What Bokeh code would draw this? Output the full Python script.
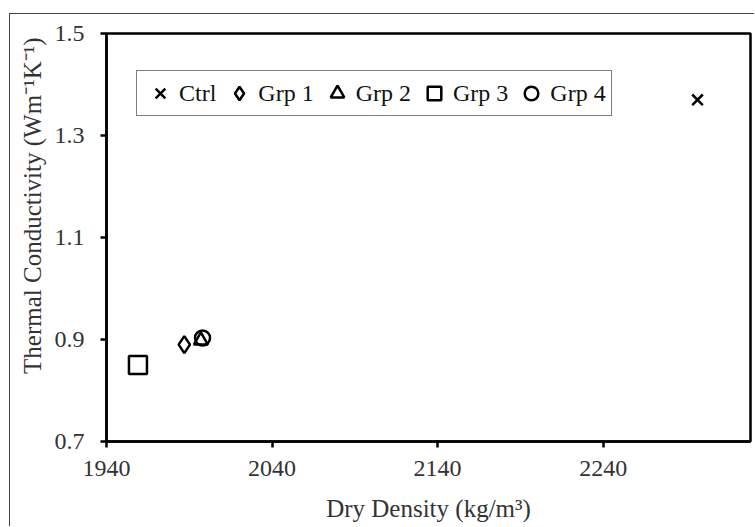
import math
from bokeh.plotting import figure
from bokeh.models import Legend, LegendItem, Title, FixedTicker, Range1d
from bokeh.embed import file_html
from bokeh.resources import INLINE

# ---- data ----
groups = ["Ctrl", "Grp 1", "Grp 2", "Grp 3", "Grp 4"]
dry_density = [2297, 1987, 1997, 1959, 1998]
conductivity = [1.37, 0.89, 0.898, 0.85, 0.903]
markers = ["x", "diamond", "triangle", "square", "circle"]
marker_sizes = [15, 17, 14, 18, 15]
x_ticks = [1940, 2040, 2140, 2240]
y_ticks = [0.7, 0.9, 1.1, 1.3, 1.5]

FONT = "Liberation Serif"
TXT = "#333333"

p = figure(width=745, height=513, output_backend="svg", toolbar_location=None,
           x_range=Range1d(1940, 2329), y_range=Range1d(0.7, 1.5),
           min_border_left=95, min_border_right=5, min_border_top=19, min_border_bottom=86)
p.styles = {"border-left": "1px solid #444", "border-top": "1px solid #444",
            "margin-left": "9px", "margin-top": "13px"}

p.xgrid.visible = False
p.ygrid.visible = False
p.outline_line_color = "black"
p.outline_line_width = 2.5
p.background_fill_color = "white"
p.border_fill_color = "white"

for ax in (p.xaxis[0], p.yaxis[0]):
    ax.axis_line_color = "black"
    ax.axis_line_width = 2.5
    ax.major_tick_line_color = "black"
    ax.major_tick_line_width = 2.5
    ax.major_tick_in = 0
    ax.major_tick_out = 6
    ax.minor_tick_line_color = None
    ax.major_label_text_font = FONT
    ax.major_label_text_font_size = "24px"
    ax.major_label_text_color = TXT

p.xaxis[0].ticker = FixedTicker(ticks=x_ticks)
p.yaxis[0].ticker = FixedTicker(ticks=y_ticks)
p.yaxis[0].major_label_overrides = {v: f"{v:.1f}" for v in y_ticks}
p.xaxis[0].major_label_standoff = 13
p.yaxis[0].major_label_standoff = 16

p.xaxis[0].axis_label = "Dry Density (kg/m³)"
p.xaxis[0].axis_label_text_font = FONT
p.xaxis[0].axis_label_text_font_size = "25px"
p.xaxis[0].axis_label_text_font_style = "normal"
p.xaxis[0].axis_label_text_color = TXT
p.xaxis[0].axis_label_standoff = 16

# y-axis title, aligned towards the top of the frame as in the reference
ytitle = Title(text="Thermal Conductivity (Wm⁻¹K⁻¹)", align="right", offset=4,
               text_font=FONT, text_font_size="25px", text_font_style="normal",
               text_color=TXT, standoff=12)
p.add_layout(ytitle, "left")

items = []
for g, xv, yv, m, s in zip(groups, dry_density, conductivity, markers, marker_sizes):
    r = p.scatter([xv], [yv], marker=m, size=s, fill_color=None,
                  line_color="black", line_width=2.5)
    items.append(LegendItem(label=g, renderers=[r]))

legend = Legend(items=items, orientation="horizontal", location=(30, 325),
                label_text_font=FONT, label_text_font_size="24px", label_text_color="#111111",
                glyph_width=36, glyph_height=34, label_standoff=1, spacing=5,
                padding=5, margin=0,
                border_line_color="black", border_line_width=1.5,
                background_fill_color="white", background_fill_alpha=1.0)
p.add_layout(legend, "center")

open("out.html", "w").write(file_html(p, INLINE))
